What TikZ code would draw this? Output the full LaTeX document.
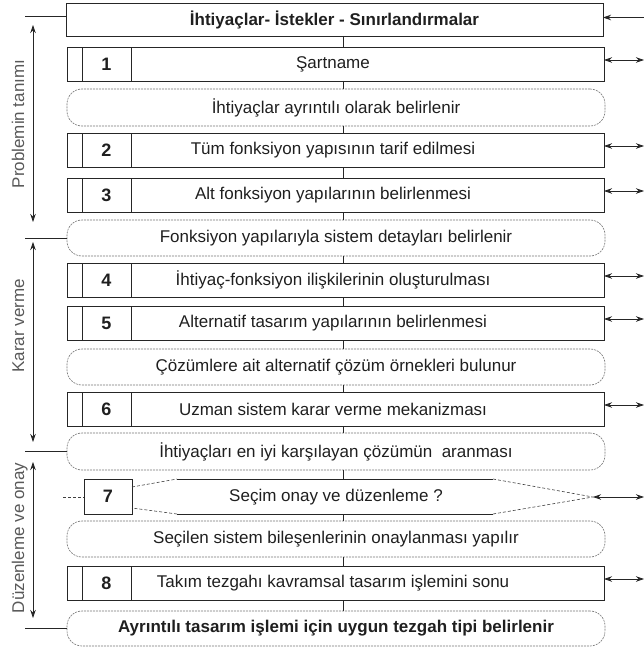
\documentclass[tikz,border=0pt]{standalone}
\usepackage{fontspec}
\setmainfont{Liberation Sans}
\usetikzlibrary{arrows.meta,calc}
\begin{document}
\begin{tikzpicture}[x=1pt,y=-1pt,
  every node/.style={font=\fontsize{17}{20}\selectfont, text=black!88, inner sep=0pt, outer sep=0pt},
  mbox/.style={draw=black!85, line width=0.8pt, minimum width=537pt, minimum height=34pt, anchor=north west},
  numbox/.style={draw=black!85, line width=0.8pt, minimum width=49pt, minimum height=34pt, anchor=north west, font=\fontsize{18}{20}\selectfont\bfseries},
  rnd/.style={draw=black!55, line width=0.6pt, dash pattern=on 2pt off 1pt, rounded corners=15pt, minimum width=538pt, minimum height=36pt, anchor=north west},
  conn/.style={draw=black!85, line width=0.8pt},
  dbl/.style={draw=black!85, line width=0.8pt, {Stealth[length=8pt,width=5.5pt]}-{Stealth[length=8pt,width=5.5pt]}},
  sgl/.style={draw=black!85, line width=0.8pt, {Stealth[length=8pt,width=5.5pt]}-},
  side/.style={rotate=90, anchor=base, text=black!65},
  hexline/.style={draw=black!85, line width=0.7pt},
  hexdash/.style={draw=black!75, line width=0.6pt, dash pattern=on 3pt off 2pt}
]
\useasboundingbox (0,0) rectangle (644,650);
% helper coordinates
\coordinate (C) at (343,0);
\coordinate (R) at (644,0);
\coordinate (L) at (25,0);

% top box
\node[mbox, minimum height=33pt, font=\fontsize{17}{20}\selectfont\bfseries] (t) at (66,3) {İhtiyaçlar- İstekler - Sınırlandırmalar};

% numbered boxes
\node[mbox] (b1) at (67,47) {\hspace*{-5pt}Şartname};
\node[numbox] (n1) at (82,47) {1};
\node[rnd, minimum height=37pt] (r1) at (67,89) {İhtiyaçlar ayrıntılı olarak belirlenir};
\node[mbox] (b2) at (67,133) {\hspace*{-5pt}Tüm fonksiyon yapısının tarif edilmesi};
\node[numbox] (n2) at (82,133) {2};
\node[mbox] (b3) at (67,178) {\hspace*{-5pt}Alt fonksiyon yapılarının belirlenmesi};
\node[numbox] (n3) at (82,178) {3};
\node[rnd] (r2) at (67,220) {Fonksiyon yapılarıyla sistem detayları belirlenir};
\node[mbox] (b4) at (67,263) {\hspace*{-5pt}İhtiyaç-fonksiyon ilişkilerinin oluşturulması};
\node[numbox] (n4) at (82,263) {4};
\node[mbox] (b5) at (67,306) {\hspace*{-5pt}Alternatif tasarım yapılarının belirlenmesi};
\node[numbox] (n5) at (82,306) {5};
\node[rnd] (r3) at (67,349) {Çözümlere ait alternatif çözüm örnekleri bulunur};
\node[mbox] (b6) at (67,392) {\hspace*{-5pt}Uzman sistem karar verme mekanizması};
\node[numbox] (n6) at (82,392) {6};
\node[rnd, minimum height=37pt] (r4) at (67,433) {İhtiyaçları en iyi karşılayan çözümün\ \ aranması};

% decision 7
\node[numbox, minimum width=48pt, minimum height=35pt] (n7) at (84,479) {7};
\coordinate (h1) at (132,487);
\coordinate (h2) at (177,479);
\coordinate (h3) at (493,479);
\coordinate (h4) at (593,497);
\coordinate (h5) at (493,514);
\coordinate (h6) at (177,514);
\coordinate (h7) at (132,508);
\coordinate (h7top) at (343,479);
\coordinate (h7bot) at (343,514);
\coordinate (h0) at (63,497);
\draw[hexdash] (h1) -- (h2);
\draw[hexline] (h2) -- (h3);
\draw[hexdash] (h3) -- (h4) -- (h5);
\draw[hexline] (h5) -- (h6);
\draw[hexdash] (h6) -- (h7);
\draw[hexdash] (h0) -- (n7.west |- h0);
\node (t7) at (336,497) {Seçim onay ve düzenleme ?};

\node[rnd] (r5) at (67,521) {Seçilen sistem bileşenlerinin onaylanması yapılır};
\node[mbox] (b8) at (67,566) {\hspace*{-5pt}Takım tezgahı kavramsal tasarım işlemini sonu};
\node[numbox] (n8) at (82,566) {8};
\node[rnd, minimum height=35pt, font=\fontsize{17}{20}\selectfont\bfseries] (r6) at (67,611) {Ayrıntılı tasarım işlemi için uygun tezgah tipi belirlenir};

% vertical connectors
\foreach \a/\b in {t/b1,b1/r1,r1/b2,b2/b3,b3/r2,r2/b4,b4/b5,b5/r3,r3/b6,b6/r4,r5/b8,b8/r6}
  \draw[conn] (\a.south -| C) -- (\b.north -| C);
\draw[conn] (r4.south -| C) -- (h7top);
\draw[conn] (h7bot) -- (r5.north -| C);

% right arrows
\draw[sgl] ([yshift=2pt]t.east) -- ([yshift=2pt]t.east -| R);
\foreach \a in {b1,b2,b3,b4,b5,b6,b8}
  \draw[dbl] ([yshift=4pt]\a.east) -- ([yshift=4pt]\a.east -| R);
\draw[dbl] (h4) -- (h4 -| R);

% left phase lines
\draw[conn] ([yshift=3pt]t.west) -- ([yshift=3pt]t.west -| L);
\draw[conn] (r2.west) -- (r2.west -| L);
\draw[conn] (r4.west) -- (r4.west -| L);
\draw[conn] (r6.west) -- (r6.west -| L);

% left phase arrows
\coordinate (p1a) at (33,25);
\coordinate (p1b) at (33,222);
\coordinate (p2a) at (33,242);
\coordinate (p2b) at (33,442);
\coordinate (p3a) at (33,462);
\coordinate (p3b) at (33,618);
\draw[dbl] (p1a) -- (p1b);
\draw[dbl] (p2a) -- (p2b);
\draw[dbl] (p3a) -- (p3b);

\node[side] (s1) at (24,124) {Problemin tanımı};
\node[side] (s2) at (24,326) {Karar verme};
\node[side] (s3) at (24,538) {Düzenleme ve onay};
\end{tikzpicture}
\end{document}
